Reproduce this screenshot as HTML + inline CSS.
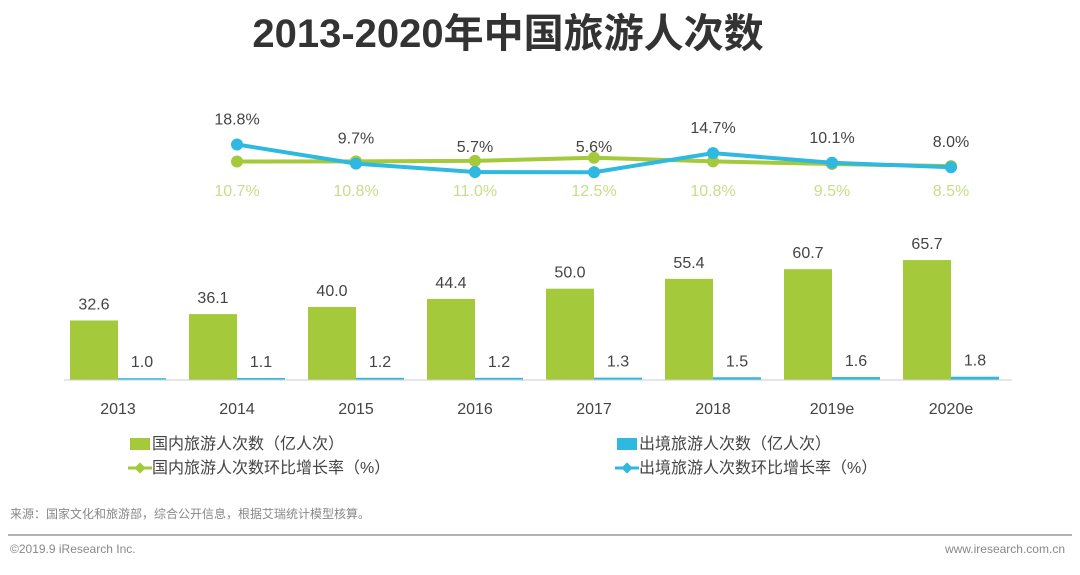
<!DOCTYPE html>
<html><head><meta charset="utf-8"><style>
body{margin:0;background:#fff;width:1080px;height:570px;overflow:hidden;font-family:"Liberation Sans","Noto Sans CJK SC",sans-serif}
</style></head><body>
<svg width="1080" height="570" xmlns="http://www.w3.org/2000/svg">
<text x="508" y="47" text-anchor="middle" font-size="40" font-weight="bold" fill="#333" font-family="Liberation Sans, Noto Sans CJK SC, sans-serif">2013-2020年中国旅游人次数</text>
<g id="plot"></g>
<line x1="64" y1="380" x2="1012" y2="380" stroke="#ccc" stroke-width="1"/>
<g font-size="16" fill="#444" font-family="Liberation Sans, Noto Sans CJK SC, sans-serif">
<rect x="130" y="438" width="20" height="12" fill="#a4c93a"/>
<text x="152" y="449">国内旅游人次数（亿人次）</text>
<line x1="128" y1="468" x2="152" y2="468" stroke="#a4c93a" stroke-width="3"/>
<rect x="136" y="464" width="8" height="8" transform="rotate(45 140 468)" fill="#a4c93a"/>
<text x="152" y="473">国内旅游人次数环比增长率（%）</text>
<rect x="617" y="438" width="20" height="12" fill="#2fb8e0"/>
<text x="639" y="449">出境旅游人次数（亿人次）</text>
<line x1="615" y1="468" x2="639" y2="468" stroke="#2fb8e0" stroke-width="3"/>
<rect x="623" y="464" width="8" height="8" transform="rotate(45 627 468)" fill="#2fb8e0"/>
<text x="639" y="473">出境旅游人次数环比增长率（%）</text>
</g>
<text x="10" y="518" font-size="12" fill="#888">来源：国家文化和旅游部，综合公开信息，根据艾瑞统计模型核算。</text>
<line x1="8" y1="535" x2="1072" y2="535" stroke="#999" stroke-width="1.5"/>
<text x="10" y="553" font-size="12" fill="#888">©2019.9 iResearch Inc.</text>
<text x="1065" y="553" font-size="12" fill="#888" text-anchor="end">www.iresearch.com.cn</text>
</svg>
<script>
const categories=["2013","2014","2015","2016","2017","2018","2019e","2020e"];
const domestic=[32.6,36.1,40.0,44.4,50.0,55.4,60.7,65.7];
const outbound=[1.0,1.1,1.2,1.2,1.3,1.5,1.6,1.8];
const domesticGrowth=[10.7,10.8,11.0,12.5,10.8,9.5,8.5];
const outboundGrowth=[18.8,9.7,5.7,5.6,14.7,10.1,8.0];
const NS="http://www.w3.org/2000/svg";
const g=document.getElementById('plot');
const cx=i=>118+i*119;
const yb=v=>380-v*1.826;
const yl=v=>184-v*2.1;
function mk(t,a){const e=document.createElementNS(NS,t);for(const k in a)e.setAttribute(k,a[k]);g.appendChild(e);return e;}
categories.forEach((c,i)=>{
 const b1=mk('rect',{x:cx(i)-48,y:yb(domestic[i]),width:48,height:380-yb(domestic[i]),fill:'#a4c93a'});
 
 
 const b2=mk('rect',{x:cx(i),y:yb(outbound[i]),width:48,height:380-yb(outbound[i]),fill:'#2fb8e0'});
 
 
 const t1=mk('text',{x:cx(i)-24,y:yb(domestic[i])-11,'text-anchor':'middle','font-size':16,fill:'#444'});t1.textContent=domestic[i].toFixed(1);
 
 
 const t2=mk('text',{x:cx(i)+24,y:yb(outbound[i])-11,'text-anchor':'middle','font-size':16,fill:'#444'});t2.textContent=outbound[i].toFixed(1);
 
 
 const tx=mk('text',{x:cx(i),y:414,'text-anchor':'middle','font-size':16,fill:'#444'});tx.textContent=c;
 
 
});
function line(vals,color,name,above){
 const px=i=>cx(i+1);
 const pl=mk('polyline',{points:vals.map((v,i)=>px(i)+','+yl(v)).join(' '),fill:'none',stroke:color,'stroke-width':4});
 
 
 vals.forEach((v,i)=>{
  const c=mk('circle',{cx:px(i),cy:yl(v),r:6,fill:color});
  
  
  const t=mk('text',{x:px(i),y:above?yl(v)-20:196,'text-anchor':'middle','font-size':16,fill:above?'#444':'#c6de8a'});
  t.textContent=v.toFixed(1)+'%';
  
  
 });
}
line(domesticGrowth,'#a4c93a','domestic-growth',false);
line(outboundGrowth,'#2fb8e0','outbound-growth',true);
</script>
</body></html>
